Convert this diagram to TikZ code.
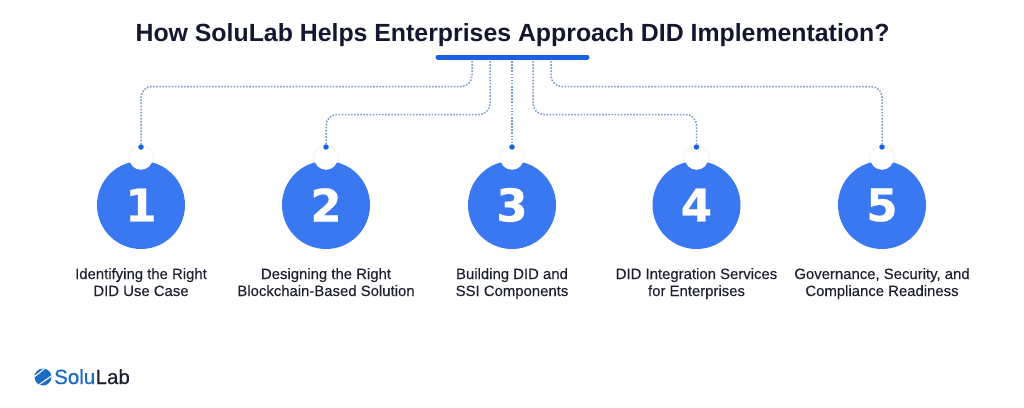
\documentclass[tikz,border=0pt]{standalone}
\usepackage{fontspec}
\setmainfont{Liberation Sans}
\newfontfamily\medfont[FakeBold=0.25]{Liberation Sans}
\newfontfamily\logofont[FakeBold=0.5]{Liberation Sans}
\newfontfamily\digitfont[FakeBold=0.6]{DejaVu Sans Bold}
\definecolor{navy}{HTML}{14172F}
\definecolor{barblue}{HTML}{1A62E0}
\definecolor{discblue}{HTML}{3A78F2}
\definecolor{dotline}{HTML}{7A9AD2}
\definecolor{ink}{HTML}{1E2030}
\definecolor{logoblue}{HTML}{1C6BC4}
\tikzset{
  disc/.style={circle,fill=discblue,minimum size=88pt,inner sep=0pt,text=white,font=\digitfont\fontsize{45}{45}\selectfont},
  notch/.style={circle,fill=white,minimum size=23.5pt,inner sep=0pt},
  halo/.style={circle,fill=black!3,minimum size=27pt,inner sep=0pt},
  enddot/.style={circle,fill=barblue,minimum size=5.5pt,inner sep=0pt},
  captext/.style={align=center,font=\medfont\fontsize{14.9}{17}\selectfont,text=ink,anchor=center},
  link/.style={draw=dotline,line width=1.5pt,dash pattern=on 1.6pt off 1.5pt,rounded corners=11pt},
}
\newcommand{\capstrut}{\rule{0pt}{12pt}}
\newcommand{\capend}{\rule[-4pt]{0pt}{4pt}}
\begin{document}
\begin{tikzpicture}[x=1pt,y=-1pt]
\useasboundingbox (0,0) rectangle (1024,407);
\fill[white] (0,0) rectangle (1024,407);
\node[font=\fontsize{24.85}{30}\selectfont\bfseries,text=navy] (title) at (512.5,35) {How SoluLab Helps Enterprises Approach DID Implementation?};
\coordinate (barL) at (438,57); \coordinate (barR) at (587,57);
\coordinate (s1) at (472,58); \coordinate (s2) at (490,58); \coordinate (s3) at (512,58); \coordinate (s4) at (533,58); \coordinate (s5) at (551,58);
\foreach \i/\x/\n/\a/\b in {1/141/1/Identifying the Right/DID Use Case,2/326/2/Designing the Right/Blockchain-Based Solution,3/512/3/Building DID and/SSI Components,4/696.5/4/DID Integration Services/for Enterprises,5/882/5/{Governance, Security, and}/Compliance Readiness}{
  \node[halo] (h\i) at (\x,158) {};
  \node[disc] (d\i) at (\x,205) {\n};
  \node[notch] (n\i) at (\x,158) {};
  \node[enddot] (e\i) at (\x,147) {};
  \node[captext] (c\i) at (\x,283.5) {\capstrut\a\\\b\capend};
}
\draw[link] (s1) -- (472,86.5) -- (141,86.5) -- (e1);
\draw[link] (s2) -- (490,114.5) -- (326,114.5) -- (e2);
\draw[link] (s3) -- (e3);
\draw[link] (s4) -- (533,114.5) -- (696.5,114.5) -- (e4);
\draw[link] (s5) -- (551,86.5) -- (882,86.5) -- (e5);
\draw[barblue,line width=5pt,line cap=round] (barL) -- (barR);
% logo
\begin{scope}
\clip (43,377) circle (8.5);
\fill[logoblue] (34,368) rectangle (52,386);
\draw[white,line width=1.1pt] (33,378) -- (47,366.5);
\draw[white,line width=1.1pt] (37,386) -- (53,375);
\end{scope}
\node[font=\logofont\fontsize{20.5}{22}\selectfont,text=logoblue,anchor=base west,inner sep=0pt] (lg1) at (54,384) {Solu};
\node[font=\logofont\fontsize{20.5}{22}\selectfont,text=ink,anchor=base west,inner sep=0pt] (lg2) at (lg1.base east) {Lab};
\end{tikzpicture}
\end{document}
